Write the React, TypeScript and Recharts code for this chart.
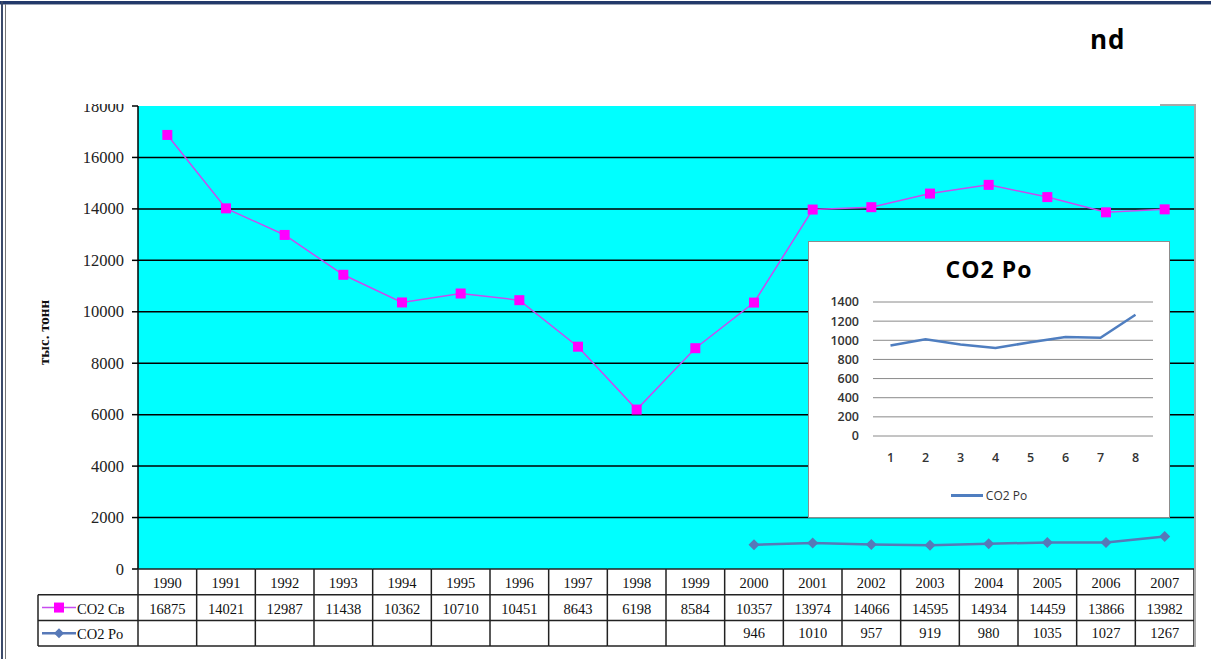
import React from 'react';
import { ComposedChart, LineChart, Line, XAxis, YAxis, CartesianGrid, Legend } from 'recharts';

const years = ['1990', '1991', '1992', '1993', '1994', '1995', '1996', '1997', '1998', '1999', '2000', '2001', '2002', '2003', '2004', '2005', '2006', '2007'];
const co2Sv: number[] = [16875, 14021, 12987, 11438, 10362, 10710, 10451, 8643, 6198, 8584, 10357, 13974, 14066, 14595, 14934, 14459, 13866, 13982];
const co2Po: (number | null)[] = [null, null, null, null, null, null, null, null, null, null, 946, 1010, 957, 919, 980, 1035, 1027, 1267];
const yTicks = [0, 2000, 4000, 6000, 8000, 10000, 12000, 14000, 16000, 18000];
const gridValues = [2000, 4000, 6000, 8000, 10000, 12000, 14000, 16000];

const insetLabels = ['1', '2', '3', '4', '5', '6', '7', '8'];
const insetValues = [946, 1010, 957, 919, 980, 1035, 1027, 1267];
const insetTicks = [0, 200, 400, 600, 800, 1000, 1200, 1400];

const SV_NAME = 'CO2 Св';
const PO_NAME = 'CO2 Po';

const W = 1211;
const H = 659;
const PLOT_LEFT = 138;
const PLOT_RIGHT = 1194;
const PLOT_TOP = 106;
const PLOT_BOTTOM = 569;
const ROW_H = 25.7;
const Y_AXIS_W = 60;
const X_AXIS_H = 80;
const LEGEND_LEFT = 38;

const SV_LINE = '#C84BF0';
const SV_MARK = '#FF00FF';
const PO_COLOR = '#5779B8';
const SERIF = '"Liberation Serif", "Times New Roman", serif';
const SANS = '"Open Sans", "Liberation Sans", sans-serif';

const mainData = years.map((y, i) => ({ year: y, sv: co2Sv[i], po: co2Po[i] }));
const insetData = insetLabels.map((l, i) => ({ n: l, v: insetValues[i] }));

const SquareDot = (p: any) => {
  if (p.cx == null || p.cy == null || p.value == null) return <g key={p.key} />;
  return <rect key={p.key} x={p.cx - 5} y={p.cy - 5} width={10} height={10} fill={SV_MARK} />;
};

const DiamondDot = (p: any) => {
  if (p.cx == null || p.cy == null || p.value == null) return <g key={p.key} />;
  const r = 5.5;
  return (
    <polygon
      key={p.key}
      points={`${p.cx},${p.cy - r} ${p.cx + r},${p.cy} ${p.cx},${p.cy + r} ${p.cx - r},${p.cy}`}
      fill={PO_COLOR}
    />
  );
};

const cellText = { fontFamily: SERIF, fontSize: 14.5, fill: '#111' };

const TableTick = (props: any) => {
  const { x, y, payload } = props;
  const i: number = payload.index;
  const colW = (PLOT_RIGHT - PLOT_LEFT) / years.length;
  const x0 = x - colW / 2;
  const x1 = x + colW / 2;
  const rows = [y, y + ROW_H, y + 2 * ROW_H, y + 3 * ROW_H];
  const ls = { stroke: '#222', strokeWidth: 1.5 };
  return (
    <g>
      <line x1={x0} y1={rows[0]} x2={x0} y2={rows[3]} {...ls} />
      {i === years.length - 1 && <line x1={x1} y1={rows[0]} x2={x1} y2={rows[3]} {...ls} />}
      {rows.map((ry, k) => (
        <line key={k} x1={x0} y1={ry} x2={x1} y2={ry} {...ls} />
      ))}
      <text x={x} y={rows[0] + ROW_H / 2 + 1} textAnchor="middle" dominantBaseline="central" {...cellText}>
        {payload.value}
      </text>
      <text x={x} y={rows[1] + ROW_H / 2 + 1} textAnchor="middle" dominantBaseline="central" {...cellText}>
        {co2Sv[i]}
      </text>
      {co2Po[i] != null && (
        <text x={x} y={rows[2] + ROW_H / 2} textAnchor="middle" dominantBaseline="central" {...cellText}>
          {co2Po[i]}
        </text>
      )}
      {i === 0 && (
        <g>
          <line x1={LEGEND_LEFT} y1={rows[1]} x2={x0} y2={rows[1]} {...ls} />
          <line x1={LEGEND_LEFT} y1={rows[2]} x2={x0} y2={rows[2]} {...ls} />
          <line x1={LEGEND_LEFT} y1={rows[3]} x2={x0} y2={rows[3]} {...ls} />
          <line x1={LEGEND_LEFT} y1={rows[1]} x2={LEGEND_LEFT} y2={rows[3]} {...ls} />
          <line x1={LEGEND_LEFT + 4} y1={rows[1] + ROW_H / 2} x2={LEGEND_LEFT + 38} y2={rows[1] + ROW_H / 2} stroke={SV_LINE} strokeWidth={1.5} />
          <rect x={LEGEND_LEFT + 16} y={rows[1] + ROW_H / 2 - 5} width={10} height={10} fill={SV_MARK} />
          <text x={LEGEND_LEFT + 39} y={rows[1] + ROW_H / 2 + 1} dominantBaseline="central" {...cellText}>
            {SV_NAME}
          </text>
          <line x1={LEGEND_LEFT + 4} y1={rows[2] + ROW_H / 2} x2={LEGEND_LEFT + 38} y2={rows[2] + ROW_H / 2} stroke={PO_COLOR} strokeWidth={2.5} />
          <polygon
            points={`${LEGEND_LEFT + 21},${rows[2] + ROW_H / 2 - 5} ${LEGEND_LEFT + 26},${rows[2] + ROW_H / 2} ${LEGEND_LEFT + 21},${rows[2] + ROW_H / 2 + 5} ${LEGEND_LEFT + 16},${rows[2] + ROW_H / 2}`}
            fill={PO_COLOR}
          />
          <text x={LEGEND_LEFT + 39} y={rows[2] + ROW_H / 2 + 1} dominantBaseline="central" {...cellText}>
            {PO_NAME}
          </text>
        </g>
      )}
    </g>
  );
};

const YTick = (props: any) => {
  const { x, y, payload } = props;
  const id = `yclip-${payload.value}`;
  return (
    <g>
      <defs>
        <clipPath id={id}>
          <rect x={0} y={PLOT_TOP - 2} width={PLOT_LEFT} height={H} />
        </clipPath>
      </defs>
      <text
        x={x}
        y={y}
        textAnchor="end"
        dominantBaseline="central"
        clipPath={`url(#${id})`}
        style={{ fontFamily: SERIF, fontSize: 16.5, fill: '#222' }}
      >
        {payload.value}
      </text>
    </g>
  );
};

const YLabel = (props: any) => {
  const vb = props.viewBox || { x: PLOT_LEFT - Y_AXIS_W, y: PLOT_TOP, width: Y_AXIS_W, height: PLOT_BOTTOM - PLOT_TOP };
  const cx = vb.x - 34;
  const cy = vb.y + vb.height / 2 - 5;
  return (
    <text
      x={cx}
      y={cy}
      transform={`rotate(-90, ${cx}, ${cy})`}
      textAnchor="middle"
      dominantBaseline="central"
      style={{ fontFamily: SERIF, fontSize: 15, fontWeight: 'bold', fill: '#111' }}
    >
      тыс. тонн
    </text>
  );
};

const insetTickStyle = { fontFamily: SANS, fontSize: 12.5, fontWeight: 600, fill: '#333' };

const InsetLegend = () => (
  <div style={{ display: 'flex', alignItems: 'center', justifyContent: 'center', fontFamily: SANS, fontSize: 12, color: '#333' }}>
    <span style={{ display: 'inline-block', width: 32, height: 3, background: '#4F7EC0', marginRight: 3 }} />
    <span>{PO_NAME}</span>
  </div>
);

export default function App() {
  return (
    <div style={{ position: 'absolute', left: 0, top: 0, width: W, height: H, background: '#fff', overflow: 'hidden' }}>
      <div style={{ position: 'absolute', left: 0, top: 1, width: W, height: 3, background: '#23396A' }} />
      <div style={{ position: 'absolute', left: 0, top: 4, width: W, height: 1, background: '#9aa3b5' }} />
      <div style={{ position: 'absolute', left: 1, top: 1, width: 2, height: H, background: '#3b4a6a' }} />
      <div style={{ position: 'absolute', left: 5, top: 4, width: 1, height: H, background: '#777' }} />

      <div
        style={{
          position: 'absolute',
          left: 1090,
          top: 21,
          fontFamily: SANS,
          fontWeight: 700,
          fontSize: 26,
          letterSpacing: 1,
          color: '#000',
          lineHeight: '36px',
        }}
      >
        nd
      </div>

      <div style={{ position: 'absolute', left: 0, top: 0 }}>
        <ComposedChart
          width={W}
          height={H}
          data={mainData}
          margin={{ top: PLOT_TOP, right: W - PLOT_RIGHT, left: PLOT_LEFT - Y_AXIS_W, bottom: H - PLOT_BOTTOM - X_AXIS_H }}
        >
          <CartesianGrid
            vertical={false}
            horizontalValues={gridValues}
            stroke="#000"
            strokeWidth={1.5}
            fill="#00FFFF"
            fillOpacity={1}
          />
          <XAxis
            dataKey="year"
            scale="band"
            height={X_AXIS_H}
            axisLine={false}
            tickLine={false}
            tickSize={0}
            tickMargin={0}
            interval={0}
            tick={<TableTick />}
          />
          <YAxis
            width={Y_AXIS_W}
            domain={[0, 18000]}
            ticks={yTicks}
            interval={0}
            axisLine={{ stroke: '#000', strokeWidth: 1.5 }}
            tickLine={{ stroke: '#000', strokeWidth: 1.5 }}
            tickSize={6}
            tickMargin={8}
            tick={<YTick />}
            label={<YLabel />}
          />
          <Line
            dataKey="sv"
            name={SV_NAME}
            stroke={SV_LINE}
            strokeWidth={1.5}
            dot={SquareDot}
            activeDot={false}
            isAnimationActive={false}
          />
          <Line
            dataKey="po"
            name={PO_NAME}
            stroke={PO_COLOR}
            strokeWidth={2.5}
            dot={DiamondDot}
            activeDot={false}
            connectNulls={false}
            isAnimationActive={false}
          />
        </ComposedChart>
      </div>

      <div style={{ position: 'absolute', left: 1194, top: 104, width: 2, height: 543, background: '#a8a8a8' }} />
      <div style={{ position: 'absolute', left: 1160, top: 104, width: 36, height: 2, background: '#a8a8a8' }} />

      <div
        style={{
          position: 'absolute',
          left: 808,
          top: 241,
          width: 362,
          height: 277,
          boxSizing: 'border-box',
          border: '1px solid #8c8c8c',
          background: '#fff',
        }}
      >
        <div
          style={{
            position: 'absolute',
            left: 0,
            top: 12,
            width: 360,
            textAlign: 'center',
            fontFamily: SANS,
            fontWeight: 700,
            fontSize: 23,
            letterSpacing: 1,
            color: '#000',
            lineHeight: '30px',
          }}
        >
          {PO_NAME}
        </div>
        <LineChart width={360} height={275} data={insetData} margin={{ top: 60, right: 16, left: 20, bottom: 51 }}>
          <CartesianGrid vertical={false} stroke="#8a8a8a" strokeWidth={1} />
          <XAxis
            dataKey="n"
            scale="band"
            height={30}
            axisLine={false}
            tickLine={false}
            tickSize={0}
            tickMargin={17}
            interval={0}
            tick={insetTickStyle}
          />
          <YAxis
            width={44}
            domain={[0, 1400]}
            ticks={insetTicks}
            interval={0}
            axisLine={false}
            tickLine={false}
            tickSize={0}
            tickMargin={14}
            tick={insetTickStyle}
          />
          <Line dataKey="v" name={PO_NAME} stroke="#4F7EC0" strokeWidth={2.5} dot={false} activeDot={false} isAnimationActive={false} />
          <Legend
            layout="horizontal"
            verticalAlign="middle"
            align="center"
            wrapperStyle={{ position: 'absolute', top: 245, left: 0, width: 360 }}
            content={<InsetLegend />}
          />
        </LineChart>
      </div>
    </div>
  );
}
